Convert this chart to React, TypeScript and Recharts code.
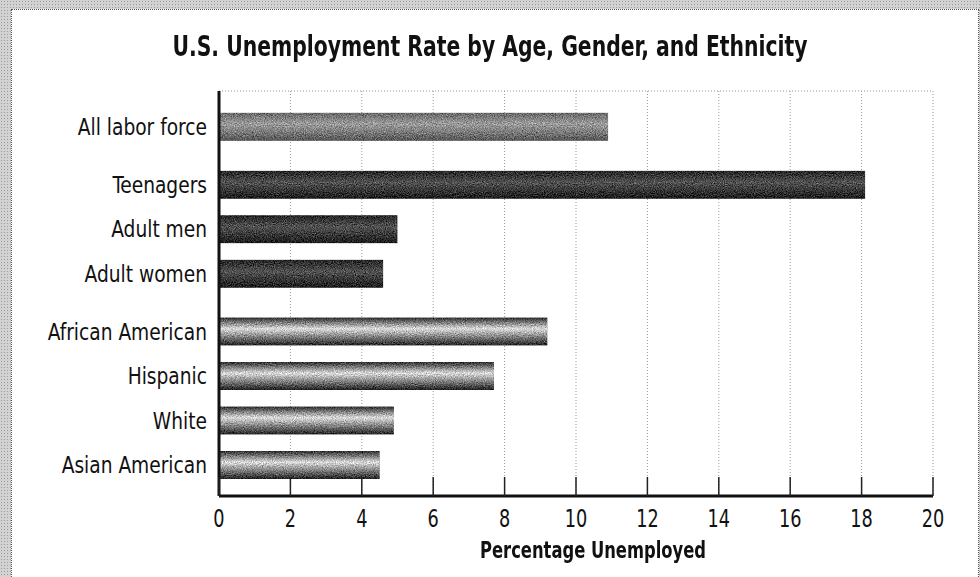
import React from "react";
import { BarChart, Bar, XAxis, YAxis, CartesianGrid, Cell, ReferenceLine } from "recharts";

const categories = [
  "All labor force",
  "Teenagers",
  "Adult men",
  "Adult women",
  "African American",
  "Hispanic",
  "White",
  "Asian American",
];
const rates = [10.9, 18.1, 5.0, 4.6, 9.2, 7.7, 4.9, 4.5];
const groups = [0, 1, 1, 1, 2, 2, 2, 2];
const xTicks = [0, 2, 4, 6, 8, 10, 12, 14, 16, 18, 20];

const GROUP_GAP = 0.3;
const data = categories.map((name, i) => ({
  name,
  rate: rates[i],
  slot: i + groups[i] * GROUP_GAP,
  group: groups[i],
}));
const slots = data.map((d) => d.slot);
const nameBySlot = new Map(data.map((d) => [d.slot, d.name]));
const Y_DOMAIN: [number, number] = [-0.81, 8.29];

const groupFills = ["url(#gTotal)", "url(#gAge)", "url(#gEth)"];
const FONT = "'DejaVu Sans Condensed', 'DejaVu Sans', sans-serif";

const XTick = (props: any) => {
  const { x, y, payload } = props;
  return (
    <g>
      <line x1={x} x2={x} y1={y - 19} y2={y} stroke="#222" strokeWidth={1.5} />
      <text
        transform={`translate(${x},${y + 31}) scale(0.82,1)`}
        textAnchor="middle"
        fontFamily={FONT}
        fontSize={24}
        fill="#111"
      >
        {payload.value}
      </text>
    </g>
  );
};

const YTick = (props: any) => {
  const { x, y, payload } = props;
  return (
    <text
      transform={`translate(${x},${y + 8}) scale(0.9,1)`}
      textAnchor="end"
      fontFamily={FONT}
      fontSize={23}
      fill="#111"
    >
      {nameBySlot.get(payload.value) ?? ""}
    </text>
  );
};

export default function App() {
  return (
    <div
      style={{
        position: "absolute",
        left: 0,
        top: 0,
        width: 980,
        height: 577,
        overflow: "hidden",
        backgroundColor: "#d2d2d2",
        backgroundImage: "radial-gradient(circle, #9c9c9c 0.6px, transparent 0.9px)",
        backgroundSize: "3px 3px",
      }}
    >
      <div
        style={{
          position: "absolute",
          left: 11,
          top: 9,
          width: 966,
          height: 600,
          background: "#fff",
          border: "1px dotted #555",
        }}
      />
      <div
        style={{
          position: "absolute",
          left: 0,
          top: 29,
          width: 980,
          textAlign: "center",
          fontFamily: FONT,
          fontWeight: "bold",
          fontSize: 29,
          color: "#111",
          transform: "scaleX(0.78)",
          transformOrigin: "490px 0",
          whiteSpace: "nowrap",
        }}
      >
        U.S. Unemployment Rate by Age, Gender, and Ethnicity
      </div>
      <div
        style={{
          position: "absolute",
          left: 393,
          top: 537,
          width: 400,
          textAlign: "center",
          fontFamily: FONT,
          fontWeight: "bold",
          fontSize: 23,
          color: "#111",
          transform: "scaleX(0.79)",
          transformOrigin: "200px 0",
          whiteSpace: "nowrap",
        }}
      >
        Percentage Unemployed
      </div>
      <div style={{ position: "absolute", left: 0, top: 0 }}>
        <BarChart
          width={980}
          height={577}
          data={data}
          layout="vertical"
          margin={{ top: 91, right: 47, bottom: 0, left: 0 }}
        >
          <defs>
            <linearGradient id="gTotal" x1="0" y1="0" x2="0" y2="1">
              <stop offset="0%" stopColor="#666" />
              <stop offset="40%" stopColor="#9c9c9c" />
              <stop offset="100%" stopColor="#555" />
            </linearGradient>
            <linearGradient id="gAge" x1="0" y1="0" x2="0" y2="1">
              <stop offset="0%" stopColor="#222" />
              <stop offset="42%" stopColor="#525252" />
              <stop offset="100%" stopColor="#1a1a1a" />
            </linearGradient>
            <linearGradient id="gEth" x1="0" y1="0" x2="0" y2="1">
              <stop offset="0%" stopColor="#2a2a2a" />
              <stop offset="40%" stopColor="#dcdcdc" />
              <stop offset="100%" stopColor="#1e1e1e" />
            </linearGradient>
            <filter id="grain" x="0" y="0" width="100%" height="100%" colorInterpolationFilters="sRGB">
              <feTurbulence type="fractalNoise" baseFrequency="0.9" numOctaves="2" seed="4" result="noise" />
              <feColorMatrix
                in="noise"
                type="matrix"
                values="0.6 0.6 0.6 0 -0.4  0.6 0.6 0.6 0 -0.4  0.6 0.6 0.6 0 -0.4  0 0 0 0 1"
                result="gray"
              />
              <feComposite in="SourceGraphic" in2="gray" operator="arithmetic" k1="0" k2="1" k3="0.6" k4="-0.3" result="mix" />
              <feComposite in="mix" in2="SourceGraphic" operator="in" />
            </filter>
          </defs>
          <CartesianGrid horizontal={false} vertical stroke="#999" strokeDasharray="1 2" />
          <ReferenceLine y={Y_DOMAIN[0]} stroke="#999" strokeDasharray="1 2" />
          <XAxis
            type="number"
            domain={[0, 20]}
            ticks={xTicks}
            allowDataOverflow
            height={81}
            axisLine={{ stroke: "#111", strokeWidth: 3 }}
            tickLine={false}
            tickSize={0}
            tickMargin={0}
            tick={<XTick />}
          />
          <YAxis
            type="number"
            dataKey="slot"
            domain={Y_DOMAIN}
            allowDataOverflow
            ticks={slots}
            interval={0}
            width={219}
            axisLine={{ stroke: "#111", strokeWidth: 3 }}
            tickLine={false}
            tickSize={0}
            tickMargin={12}
            tick={<YTick />}
          />
          <Bar dataKey="rate" barSize={28} isAnimationActive={false}>
            {data.map((d, i) => (
              <Cell key={i} fill={groupFills[d.group]} filter="url(#grain)" />
            ))}
          </Bar>
        </BarChart>
      </div>
    </div>
  );
}
